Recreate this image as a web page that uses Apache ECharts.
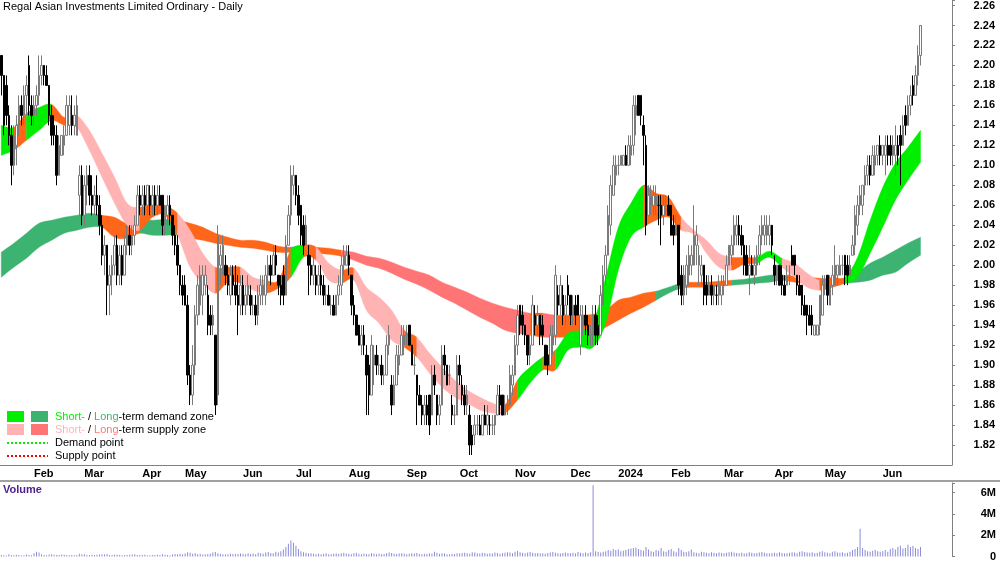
<!DOCTYPE html>
<html>
<head>
<meta charset="utf-8">
<script src="https://cdn.jsdelivr.net/npm/echarts/dist/echarts.min.js"></script>
<style>
  html, body { margin: 0; padding: 0; background: #fff; }
  #chart { width: 1000px; height: 562px; }
</style>
</head>
<body>
<div id="chart"></div>
<script>
// sessions (ASX calendar)
const firstSession = '2023-01-12';
const lastSession = '2024-06-25';
const holidays = ['2023-01-26', '2023-04-07', '2023-04-10', '2023-04-25', '2023-06-12',
  '2023-12-25', '2023-12-26', '2024-01-01', '2024-01-26', '2024-03-29', '2024-04-01',
  '2024-04-25', '2024-06-10'];
const padSessions = 12;
const monthNames = ['Jan', 'Feb', 'Mar', 'Apr', 'May', 'Jun', 'Jul', 'Aug', 'Sep', 'Oct', 'Nov', 'Dec'];

// daily bars in cents: [open, high, low, close], one row per session
const ohlc = [
  // Jan 2023
  [221,221,217,219],[219,219,213,214],[218,219,214,215],[215,216,212,213],[213,214,208,210],[210,214,209,213],[212,215,210,214],[214,217,213,216],[216,217,214,215],[215,218,214,217],[217,219,215,218],[220,221,215,216],[216,217,214,215],
  // Feb
  [215,217,214,216],[216,218,215,217],[217,221,216,219],[219,221,218,220],[220,220,218,219],[219,220,218,218],[218,218,214,215],[215,216,212,213],[214,215,212,213],[213,214,208,209],[209,213,209,212],[211,213,211,213],[212,214,211,213],[213,217,213,216],[214,217,213,216],[215,217,213,214],[214,216,213,215],[213,217,213,216],[207,210,205,209],[209,210,204,205],
  // Mar
  [205,209,204,208],[208,210,206,209],[209,210,206,207],[207,209,205,206],[206,208,205,207],[207,209,205,206],[206,207,203,204],[204,205,200,201],[201,203,199,202],[202,202,195,198],[198,200,195,199],[199,201,197,200],[200,203,199,202],[202,203,198,199],[199,202,198,201],[201,202,198,199],[199,203,199,202],[202,204,201,203],[203,204,201,202],[202,204,201,203],[203,205,202,204],[204,208,204,207],[207,208,205,206],
  // Apr
  [206,208,205,207],[207,208,205,206],[206,208,205,208],[207,208,205,206],[206,208,205,207],[207,208,205,206],[206,208,205,207],[207,208,206,206],[207,207,203,204],[204,206,203,205],[205,207,204,206],[206,207,204,205],[205,205,202,203],[203,204,201,202],[202,203,199,200],[200,200,197,198],[198,199,196,197],
  // May
  [198,199,196,196],[196,197,188,189],[189,190,186,187],[187,192,186,190],[190,196,189,195],[195,199,194,198],[196,200,195,199],[197,200,195,199],[198,200,197,199],[197,198,193,194],[195,196,193,194],[194,196,193,195],[193,193,185,186],[187,204,186,203],[200,202,198,201],[199,203,199,202],[200,201,198,199],[199,200,197,198],[197,200,196,199],[199,200,197,198],[198,200,196,197],[197,199,193,196],[196,199,195,198],
  // Jun
  [198,199,195,196],[196,198,195,197],[197,199,196,198],[197,198,195,196],[196,197,195,196],[196,197,194,195],[195,198,194,197],[197,199,196,198],[197,199,196,198],[197,200,196,199],[199,201,198,200],[200,201,198,199],[199,202,199,201],[201,202,199,200],[199,199,197,198],[198,199,196,197],[199,200,196,197],[197,203,197,202],[202,206,202,205],[205,210,204,209],[208,210,207,209],
  // Jul
  [209,209,206,207],[207,208,204,205],[206,206,202,203],[204,205,201,202],[202,205,202,204],[201,202,197,200],[200,201,198,199],[199,201,198,200],[199,200,197,198],[198,200,197,199],[199,200,197,198],[198,199,196,197],[197,198,196,197],[197,198,196,196],[196,197,195,196],[196,197,195,195],[195,197,195,197],[197,199,196,198],[198,201,197,200],[200,202,199,201],[200,202,200,201],
  // Aug
  [201,202,199,200],[199,199,195,196],[196,197,194,195],[195,195,193,193],[194,194,192,192],[192,194,191,193],[193,194,191,192],[191,192,185,189],[190,191,185,187],[187,193,187,192],[190,192,188,191],[191,192,189,190],[190,191,189,190],[190,191,188,189],[189,190,188,189],[189,193,189,192],[192,194,191,193],[188,189,185,186],[186,189,186,188],[188,192,188,191],[190,192,189,191],[191,194,191,193],[192,194,191,193],
  // Sep
  [193,194,192,193],[194,194,192,192],[192,192,190,190],[190,191,189,190],[189,189,184,187],[187,188,186,186],[186,187,184,185],[185,187,184,186],[186,187,184,185],[187,187,183,184],[185,190,185,189],[189,190,187,188],[187,187,184,185],[185,187,184,186],[186,192,186,191],[191,192,189,190],[190,190,188,188],[189,190,188,189],[186,187,184,185],[185,186,184,185],[185,191,185,190],
  // Oct
  [190,191,188,189],[188,189,186,187],[187,188,185,186],[186,188,185,187],[185,186,181,182],[183,184,181,182],[183,185,182,184],[184,185,183,184],[184,185,183,183],[183,185,183,185],[185,186,184,184],[184,186,183,185],[184,185,183,184],[184,185,183,184],[184,185,183,185],[185,188,185,187],[187,188,185,186],[187,187,185,185],[185,187,185,186],[186,187,185,186],[186,190,186,189],[188,190,187,189],
  // Nov
  [189,193,189,192],[192,196,191,195],[196,196,193,194],[195,196,193,194],[194,194,192,193],[193,193,190,191],[191,193,190,192],[192,197,192,196],[195,196,193,194],[194,196,193,195],[195,195,192,193],[194,195,192,193],[192,192,190,190],[191,192,189,190],[190,194,190,193],[192,194,191,193],[193,200,192,199],[197,198,195,196],[196,199,195,198],[197,198,194,195],[195,197,194,196],[198,199,196,197],
  // Dec
  [197,197,194,195],[195,197,194,196],[196,197,194,195],[197,197,195,195],[192,196,191,195],[194,196,193,195],[195,196,193,194],[194,195,192,193],[193,194,192,193],[193,196,192,195],[195,196,192,193],[194,195,192,193],[193,198,193,197],[196,200,196,199],[199,202,198,201],[201,206,201,205],[204,209,203,208],[207,211,207,210],[209,211,208,210],
  // Jan 2024
  [210,211,209,210],[210,211,210,211],[210,211,210,211],[211,212,210,210],[210,213,210,212],[211,213,210,212],[212,217,211,216],[215,217,213,216],[217,217,215,215],[217,217,214,215],[214,215,210,213],[212,213,203,204],[205,208,205,207],[206,208,205,207],[206,208,205,207],[206,208,205,207],[206,207,204,206],[206,207,202,205],[205,207,204,206],[206,207,205,206],[206,207,205,205],
  // Feb
  [206,206,203,203],[204,205,202,203],[203,205,203,204],[204,204,197,198],[199,200,196,197],[197,200,196,199],[198,201,197,200],[199,202,198,201],[200,202,199,201],[200,206,200,203],[202,204,200,203],[200,202,198,201],[199,201,198,200],[200,200,196,197],[198,199,196,197],[197,199,197,198],[198,199,196,197],[197,198,196,198],[197,198,196,197],[197,199,196,198],[197,199,196,198],
  // Mar
  [198,199,197,198],[198,201,198,200],[200,202,200,202],[201,203,200,202],[202,205,201,204],[203,205,202,204],[204,205,202,203],[203,204,201,202],[202,203,199,200],[201,202,199,199],[199,202,197,200],[200,201,199,199],[199,201,198,200],[200,202,199,201],[201,204,200,203],[203,205,202,204],[203,205,202,204],[203,205,202,204],[203,205,202,204],[204,204,201,202],
  // Apr
  [200,201,198,199],[199,200,198,200],[200,200,198,198],[199,200,197,198],[198,199,197,197],[198,200,198,199],[199,200,198,199],[201,202,200,200],[201,201,199,200],[199,199,197,198],[198,199,197,197],[198,198,195,196],[196,197,195,195],[196,196,193,195],[195,196,194,194],[195,196,193,194],[193,194,193,194],[193,194,193,194],[194,197,193,197],[195,199,195,198],
  // May
  [198,199,197,198],[199,199,196,197],[196,199,196,198],[198,200,197,199],[198,202,198,200],[199,200,198,200],[199,201,199,200],[200,201,199,200],[201,201,198,199],[200,201,198,199],[199,201,199,200],[201,203,201,202],[202,206,201,205],[204,207,203,206],[206,208,205,207],[206,208,205,208],[208,210,207,209],[209,211,208,210],[210,211,208,209],[209,212,209,211],[210,212,209,211],[211,212,210,212],[212,213,210,211],
  // Jun
  [211,212,210,212],[211,213,209,212],[212,213,210,211],[212,213,210,211],[211,213,210,212],[211,214,209,212],[212,213,210,211],[213,214,208,212],[212,215,212,214],[215,216,213,214],[214,217,214,216],[216,218,215,217],[218,219,216,217],[217,220,217,219],[219,222,218,221],[221,224,220,224]
];

// volume in thousands of shares, one per session
const volumeK = [
  150,120,90,200,130,110,160,140,100,120,180,130,110,
  300,450,380,200,150,120,180,220,160,140,130,190,170,150,120,140,110,130,250,180,
  200,150,130,170,140,160,180,210,190,230,150,140,170,160,130,120,150,140,160,180,200,150,140,
  130,160,120,110,150,140,170,130,210,160,140,120,180,230,200,260,220,
  280,400,350,260,300,220,250,180,200,240,260,380,420,300,240,200,180,220,260,240,200,230,280,
  260,220,300,240,280,200,350,300,260,380,420,340,300,450,380,500,650,900,1200,1500,1300,
  1000,700,500,400,350,280,300,260,220,250,200,240,300,220,200,260,280,240,300,350,280,
  250,200,300,350,260,220,280,240,200,300,260,220,250,200,240,300,380,320,260,240,280,300,250,
  220,260,300,280,320,240,220,260,240,300,280,450,350,260,300,280,220,200,260,240,300,
  280,320,360,300,260,400,380,300,280,350,320,260,300,280,380,320,260,300,350,400,380,300,
  450,520,400,350,300,380,420,360,300,340,280,300,260,320,380,420,360,300,280,340,380,320,
  300,360,280,420,350,300,380,320,400,6700,500,420,380,450,500,600,550,700,600,
  650,500,550,600,700,750,800,850,700,600,550,900,650,500,450,600,550,800,500,450,600,
  700,500,400,800,600,450,400,500,650,400,350,300,450,400,350,300,400,350,300,380,320,
  300,350,400,450,380,320,300,350,280,300,400,350,300,320,380,420,350,300,280,320,
  350,300,400,320,280,300,350,400,380,300,450,500,420,380,350,400,300,350,450,500,
  400,350,300,450,500,380,350,400,300,350,450,600,700,900,2600,800,600,500,450,550,600,500,450,
  500,600,450,700,800,650,900,1000,750,800,1100,900,1000,800,700,900
];

// zone edges read every 5th session
const bandStep = 5;
const shortHi = [2.140,2.138,2.152,2.158,2.161,2.148,2.150,2.135,2.112,2.088,
  2.062,2.058,2.062,2.060,2.052,2.035,2.012,1.998,1.998,1.998,
  1.988,1.985,1.985,2.015,2.020,2.018,2.002,1.995,1.997,1.978,
  1.968,1.955,1.935,1.928,1.912,1.898,1.885,1.875,1.868,1.862,
  1.860,1.885,1.898,1.908,1.915,1.932,1.935,1.942,1.988,2.038,
  2.062,2.080,2.072,2.068,2.048,2.035,2.025,2.012,2.008,2.008,
  2.008,2.014,2.007,2.002,1.992,1.985,1.988,1.988,2.008,2.045,
  2.078,2.102,2.118,2.135];
const shortLo = [2.110,2.115,2.125,2.135,2.145,2.140,2.138,2.115,2.088,2.062,
  2.040,2.035,2.048,2.050,2.030,1.998,1.982,1.972,1.983,1.982,
  1.975,1.972,1.977,1.988,2.008,2.005,1.985,1.982,1.985,1.955,
  1.942,1.925,1.918,1.908,1.892,1.878,1.868,1.862,1.855,1.852,
  1.852,1.865,1.882,1.895,1.895,1.915,1.918,1.918,1.942,1.995,
  2.028,2.038,2.045,2.048,2.035,2.031,2.012,1.998,1.995,2.001,
  2.002,2.008,1.998,1.988,1.978,1.975,1.978,1.982,1.988,2.012,
  2.038,2.065,2.085,2.103];
const longHi = [2.013,2.022,2.032,2.042,2.045,2.048,2.050,2.052,2.050,2.048,
  2.042,2.047,2.045,2.046,2.045,2.042,2.038,2.032,2.028,2.025,
  2.025,2.023,2.019,2.018,2.020,2.018,2.017,2.015,2.013,2.009,
  2.007,2.003,1.998,1.994,1.990,1.983,1.978,1.973,1.967,1.962,
  1.958,1.955,1.952,1.952,1.950,1.950,1.950,1.951,1.955,1.965,
  1.968,1.972,1.974,1.978,1.982,1.983,1.983,1.984,1.985,1.986,
  1.988,1.990,1.990,1.989,1.988,1.987,1.986,1.987,1.993,2.002,
  2.008,2.015,2.022,2.028];
const longLo = [1.988,1.998,2.007,2.018,2.025,2.032,2.035,2.038,2.038,2.028,
  2.027,2.032,2.030,2.030,2.030,2.027,2.025,2.022,2.020,2.018,
  2.017,2.015,2.013,2.013,2.014,2.012,2.011,2.009,2.005,2.000,
  1.997,1.992,1.986,1.981,1.975,1.968,1.962,1.955,1.948,1.942,
  1.935,1.932,1.930,1.928,1.928,1.928,1.928,1.931,1.938,1.945,
  1.952,1.958,1.965,1.972,1.977,1.978,1.978,1.979,1.980,1.981,
  1.982,1.983,1.985,1.983,1.982,1.980,1.980,1.982,1.983,1.985,
  1.990,1.993,2.002,2.010];
// state of each stretch between two readings: G demand, P/S supply, O neutral
const shortState = 'GOGGOOPPPPPOOOPPPOOPPOOGOPPOPPPPOPPPPPPPOGGOGGGGGGGOOOPPPPOOGGPPPOOGGGGGG';
const longState  = 'GGGGGGGGOOOGGGOOOOOOOOOGOOOSSSSSSSSSSSSSSSOSOOOOOOOOGGOOOOGGGGOOOOOGGGGGG';

const shortColors = { G: '#00ee00', O: '#ff661a', P: '#ffb3b3' };
const longColors = { G: '#3cb371', O: '#ff661a', S: '#ff7575' };

function tradingDays(from, to, skip) {
  const out = [];
  const d = new Date(from + 'T00:00:00Z');
  const end = new Date(to + 'T00:00:00Z');
  while (d <= end) {
    const s = d.toISOString().slice(0, 10);
    const wd = d.getUTCDay();
    if (wd !== 0 && wd !== 6 && skip.indexOf(s) < 0) out.push(s);
    d.setUTCDate(d.getUTCDate() + 1);
  }
  return out;
}

const dates = tradingDays(firstSession, lastSession, holidays);
const categories = dates.slice();
for (let k = 0; k < padSessions; k++) categories.push('pad' + k);
const monthStart = categories.map((d, i) =>
  i > 0 && i < dates.length && d.slice(0, 7) !== dates[i - 1].slice(0, 7));

function monthLabel(v) {
  if (v.indexOf('pad') === 0) return '';
  const m = +v.slice(5, 7);
  return m === 1 ? v.slice(0, 4) : monthNames[m - 1];
}

const candles = ohlc.map(r => [r[0] / 100, r[3] / 100, r[2] / 100, r[1] / 100]);
const volumes = volumeK.map(v => v * 1000);

// Catmull-Rom through pixel points, from index a to b (either direction)
function curve(pts, a, b) {
  const n = pts.length;
  const at = i => pts[Math.max(0, Math.min(n - 1, i))];
  const s = a < b ? 1 : -1;
  let d = '';
  for (let i = a; i !== b; i += s) {
    const p0 = at(i - s), p1 = at(i), p2 = at(i + s), p3 = at(i + 2 * s);
    const c1 = [p1[0] + (p2[0] - p0[0]) / 6, p1[1] + (p2[1] - p0[1]) / 6];
    const c2 = [p2[0] - (p3[0] - p1[0]) / 6, p2[1] - (p3[1] - p1[1]) / 6];
    d += ' C' + c1.join(',') + ' ' + c2.join(',') + ' ' + p2.join(',');
  }
  return d;
}

// one custom series per zone; each run of one colour is one filled shape
function bandSeries(hi, lo, states, palette, z) {
  const runs = [];
  let k = 0;
  while (k < states.length) {
    let e = k;
    while (e + 1 < states.length && states[e + 1] === states[k]) e++;
    runs.push({ from: k, to: e + 1, color: palette[states[k]] });
    k = e + 1;
  }
  return {
    type: 'custom', xAxisIndex: 0, yAxisIndex: 0, z: z, silent: true, clip: true,
    encode: { x: 0, y: 1 },
    data: runs.map(r => [r.from * bandStep, lo[r.from]]),
    renderItem: function (params, api) {
      const r = runs[params.dataIndex];
      const up = hi.map((v, p) => api.coord([p * bandStep, v]));
      const dn = lo.map((v, p) => api.coord([p * bandStep, v]));
      const d = 'M' + up[r.from].join(',') + curve(up, r.from, r.to) +
        ' L' + dn[r.to].join(',') + curve(dn, r.to, r.from) + ' Z';
      return { type: 'path', shape: { pathData: d }, style: { fill: r.color, stroke: r.color, lineWidth: 0.4 } };
    }
  };
}

const font = 'Liberation Sans, Arial, sans-serif';
const axisGrey = '#808080';

const chart = echarts.init(document.getElementById('chart'), null, { renderer: 'canvas' });
chart.setOption({
  animation: false,
  backgroundColor: '#ffffff',
  grid: [
    { left: 0, right: 48, top: 0, height: 465 },
    { left: 0, right: 48, top: 483, height: 75 }
  ],
  xAxis: [
    {
      type: 'category', gridIndex: 0, data: categories, boundaryGap: true,
      axisLine: { lineStyle: { color: axisGrey } },
      axisTick: { interval: i => monthStart[i], length: 4, lineStyle: { color: axisGrey } },
      axisLabel: {
        interval: i => monthStart[i], formatter: monthLabel, align: 'left', margin: 3,
        fontSize: 11, fontWeight: 'bold', color: '#000', fontFamily: font
      },
      splitLine: { show: false }
    },
    {
      type: 'category', gridIndex: 1, data: categories, boundaryGap: true,
      axisLine: { show: false }, axisTick: { show: false }, axisLabel: { show: false }
    }
  ],
  yAxis: [
    {
      type: 'value', gridIndex: 0, position: 'right', min: 1.80, max: 2.265, interval: 0.02,
      axisLine: { show: true, lineStyle: { color: axisGrey } },
      axisTick: { show: true, length: 3, lineStyle: { color: axisGrey } },
      splitLine: { show: false },
      axisLabel: {
        showMinLabel: false, align: 'right', margin: 43,
        formatter: v => Math.abs(v * 50 - Math.round(v * 50)) < 1e-6 ? v.toFixed(2) : '',
        fontSize: 11, fontWeight: 'bold', color: '#000', fontFamily: font
      }
    },
    {
      type: 'value', gridIndex: 1, position: 'right', min: 0, max: 6900000, interval: 2000000,
      axisLine: { show: true, lineStyle: { color: axisGrey } },
      axisTick: { show: true, length: 3, lineStyle: { color: axisGrey } },
      splitLine: { show: false },
      axisLabel: {
        align: 'right', margin: 44,
        formatter: v => (v % 2000000 !== 0 ? '' : (v === 0 ? '0' : v / 1000000 + 'M')),
        fontSize: 11, fontWeight: 'bold', color: '#000', fontFamily: font
      }
    }
  ],
  series: [
    bandSeries(longHi, longLo, longState, longColors, 2),
    bandSeries(shortHi, shortLo, shortState, shortColors, 3),
    {
      type: 'candlestick', xAxisIndex: 0, yAxisIndex: 0, data: candles, barWidth: 2, z: 5,
      itemStyle: { color: '#ffffff', color0: '#000000', borderColor: '#7a7a7a', borderColor0: '#000000', borderWidth: 1 }
    },
    {
      type: 'bar', xAxisIndex: 1, yAxisIndex: 1, data: volumes, barWidth: 1, z: 5,
      itemStyle: { color: '#8c8cd8' }
    }
  ],
  graphic: [
    { type: 'text', z: 100, left: 3, top: 1, style: { text: 'Regal Asian Investments Limited Ordinary - Daily', font: '11px ' + font, fill: '#000' } },
    { type: 'text', z: 100, left: 3, top: 484, style: { text: 'Volume', font: 'bold 11px ' + font, fill: '#4b1f8c' } },
    { type: 'line', z: 100, shape: { x1: 0, y1: 481, x2: 1000, y2: 481 }, style: { stroke: '#a0a0a0', lineWidth: 2 } },
    { type: 'rect', z: 100, shape: { x: 7, y: 411, width: 17, height: 11 }, style: { fill: shortColors.G } },
    { type: 'rect', z: 100, shape: { x: 31, y: 411, width: 17, height: 11 }, style: { fill: longColors.G } },
    { type: 'rect', z: 100, shape: { x: 7, y: 424, width: 17, height: 11 }, style: { fill: shortColors.P } },
    { type: 'rect', z: 100, shape: { x: 31, y: 424, width: 17, height: 11 }, style: { fill: longColors.S } },
    { type: 'line', z: 100, shape: { x1: 7, y1: 443, x2: 48, y2: 443 }, style: { stroke: '#00ee00', lineWidth: 2, lineDash: [2, 2] } },
    { type: 'line', z: 100, shape: { x1: 7, y1: 456, x2: 48, y2: 456 }, style: { stroke: '#ff0000', lineWidth: 2, lineDash: [2, 2] } },
    {
      type: 'text', z: 100, x: 55, y: 417, style: {
        text: '{a|Short-} / {b|Long}-term demand zone', font: '11px ' + font, fill: '#000', verticalAlign: 'middle',
        rich: { a: { fill: shortColors.G, font: '11px ' + font }, b: { fill: longColors.G, font: '11px ' + font } }
      }
    },
    {
      type: 'text', z: 100, x: 55, y: 430, style: {
        text: '{a|Short-} / {b|Long}-term supply zone', font: '11px ' + font, fill: '#000', verticalAlign: 'middle',
        rich: { a: { fill: shortColors.P, font: '11px ' + font }, b: { fill: longColors.S, font: '11px ' + font } }
      }
    },
    { type: 'text', z: 100, x: 55, y: 443, style: { text: 'Demand point', font: '11px ' + font, fill: '#000', verticalAlign: 'middle' } },
    { type: 'text', z: 100, x: 55, y: 456, style: { text: 'Supply point', font: '11px ' + font, fill: '#000', verticalAlign: 'middle' } }
  ]
});
</script>
</body>
</html>
